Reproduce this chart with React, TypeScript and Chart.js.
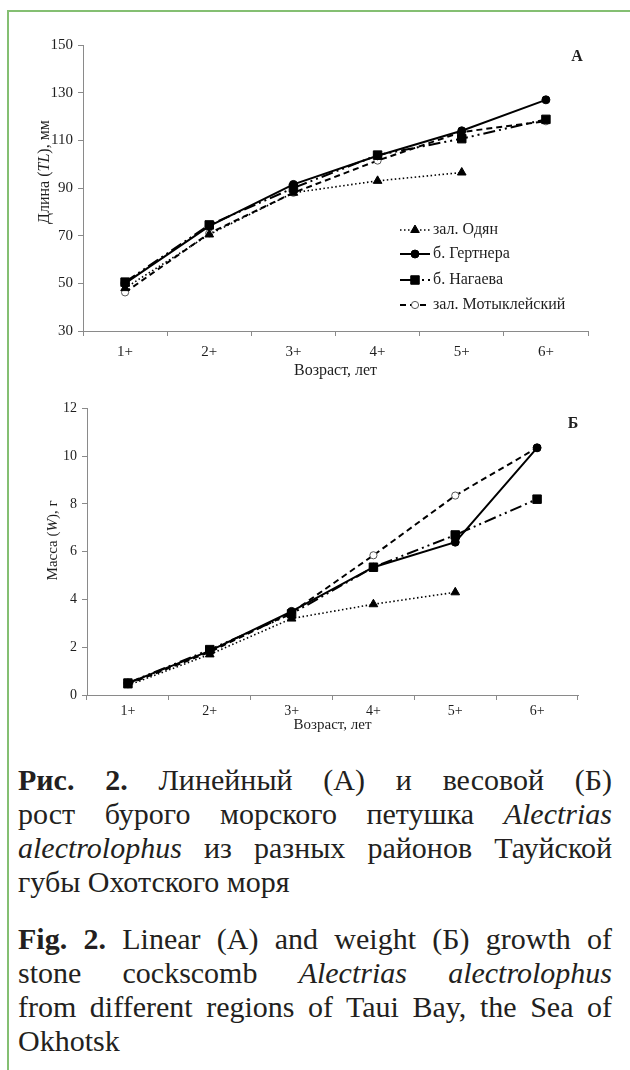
import React, { useEffect, useRef } from "react";
import { Chart, registerables } from "chart.js";

Chart.register(...registerables);

// ---------- data ----------
const ages = ["1+", "2+", "3+", "4+", "5+", "6+"];
const seriesNames = ["зал. Одян", "б. Гертнера", "б. Нагаева", "зал. Мотыклейский"];

// Panel A: length TL, mm
const odyanLen = [48, 70.5, 88, 93, 96.5, null];
const gertnerLen = [50, 74, 91.5, 103.5, 114, 127];
const nagaevLen = [50.5, 74.5, 90, 103.8, 110.7, 118.8];
const motykLen = [46.2, 71, 88, 101.5, 113.5, 118];

// Panel B: weight W, g
const odyanW = [0.4, 1.7, 3.2, 3.8, 4.3, null];
const gertnerW = [0.5, 1.85, 3.5, 5.35, 6.4, 10.35];
const nagaevW = [0.5, 1.9, 3.4, 5.35, 6.7, 8.2];
const motykW = [0.45, 1.8, 3.45, 5.85, 8.35, 10.35];

const lenTicks = { min: 30, max: 150, step: 20 };
const wTicks = { min: 0, max: 12, step: 2 };

const FONT = "'Liberation Serif', 'Times New Roman', serif";
const AXIS = "#8a8a8a";
const TXT = "#1e1e1e";

type Style = {
  dash: number[];
  width: number;
  point: string;
  radius: number;
  fill: string;
  stroke: string;
};

const styles: Style[] = [
  { dash: [1.5, 2.5], width: 1.6, point: "triangle", radius: 5, fill: "#000", stroke: "#000" },
  { dash: [], width: 2, point: "circle", radius: 4, fill: "#000", stroke: "#000" },
  { dash: [12, 4, 2, 4, 2, 4], width: 2, point: "rect", radius: 6, fill: "#000", stroke: "#000" },
  { dash: [6, 4], width: 2, point: "circle", radius: 3.6, fill: "#fff", stroke: "#555" },
];

function makeDatasets(arrs: (number | null)[][]) {
  return arrs.map((d, i) => {
    const s = styles[i];
    return {
      label: seriesNames[i],
      data: d,
      borderColor: "#000",
      borderWidth: s.width,
      borderDash: s.dash,
      pointStyle: s.point,
      pointRadius: s.radius,
      pointBackgroundColor: s.fill,
      pointBorderColor: s.stroke,
      pointBorderWidth: 1,
      fill: false,
      tension: 0,
    };
  });
}

function drawMarker(ctx: CanvasRenderingContext2D, s: Style, x: number, y: number) {
  ctx.save();
  ctx.setLineDash([]);
  ctx.fillStyle = s.fill;
  ctx.strokeStyle = s.stroke;
  ctx.lineWidth = 1;
  ctx.beginPath();
  const r = s.radius;
  if (s.point === "circle") {
    ctx.arc(x, y, r, 0, Math.PI * 2);
  } else if (s.point === "rect") {
    const h = r * Math.SQRT1_2;
    ctx.rect(x - h, y - h, 2 * h, 2 * h);
  } else if (s.point === "triangle") {
    const xo = (r * Math.sqrt(3)) / 2;
    ctx.moveTo(x, y - r);
    ctx.lineTo(x + xo, y + r / 2);
    ctx.lineTo(x - xo, y + r / 2);
    ctx.closePath();
  }
  ctx.fill();
  ctx.stroke();
  ctx.restore();
}

function drawRotated(ctx: CanvasRenderingContext2D, segs: { t: string; italic?: boolean }[], cx: number, cy: number, size: number) {
  ctx.save();
  ctx.translate(cx, cy);
  ctx.rotate(-Math.PI / 2);
  ctx.fillStyle = TXT;
  ctx.textBaseline = "middle";
  ctx.textAlign = "left";
  let total = 0;
  const widths = segs.map((s) => {
    ctx.font = `${s.italic ? "italic " : ""}${size}px ${FONT}`;
    const w = ctx.measureText(s.t).width;
    total += w;
    return w;
  });
  let x = -total / 2;
  segs.forEach((s, i) => {
    ctx.font = `${s.italic ? "italic " : ""}${size}px ${FONT}`;
    ctx.fillText(s.t, x, 0);
    x += widths[i];
  });
  ctx.restore();
}

type Cfg = {
  data: (number | null)[][];
  ticks: { min: number; max: number; step: number };
  width: number;
  height: number;
  padding: { left: number; top: number; right: number; bottom: number };
  yAxisWidth: number;
  tickSize: number;
  tickPad: number;
  titleSize: number;
  yTitle: { t: string; italic?: boolean }[];
  yTitleDx: number;
  yTitleDy: number;
  xTitleDy: number;
  panel: string;
  panelDx: number;
  panelDy: number;
  legend: boolean;
};

function PanelChart({ cfg }: { cfg: Cfg }) {
  const ref = useRef<HTMLCanvasElement | null>(null);
  useEffect(() => {
    if (!ref.current) return;
    const annot = {
      id: "annot",
      afterDraw(chart: any) {
        const ctx: CanvasRenderingContext2D = chart.ctx;
        const a = chart.chartArea;
        drawRotated(ctx, cfg.yTitle, a.left + cfg.yTitleDx, a.top + cfg.yTitleDy, cfg.titleSize);
        ctx.save();
        ctx.fillStyle = TXT;
        ctx.font = `${cfg.titleSize}px ${FONT}`;
        ctx.textAlign = "center";
        ctx.textBaseline = "middle";
        ctx.fillText("Возраст, лет", (a.left + a.right) / 2, a.bottom + cfg.xTitleDy);
        ctx.font = `bold 16px ${FONT}`;
        ctx.fillText(cfg.panel, a.right + cfg.panelDx, a.top + cfg.panelDy);
        ctx.restore();
        if (cfg.legend) {
          const x0 = a.right - 188;
          const rows = [a.top + 185, a.top + 209, a.top + 235, a.top + 260];
          chart.data.datasets.forEach((ds: any, i: number) => {
            const s = styles[i];
            const y = rows[i];
            ctx.save();
            ctx.strokeStyle = "#000";
            ctx.lineWidth = s.width;
            ctx.setLineDash(s.dash);
            ctx.beginPath();
            ctx.moveTo(x0, y);
            ctx.lineTo(x0 + 30, y);
            ctx.stroke();
            ctx.restore();
            drawMarker(ctx, s, x0 + 15, y);
            ctx.save();
            ctx.fillStyle = TXT;
            ctx.font = `16px ${FONT}`;
            ctx.textAlign = "left";
            ctx.textBaseline = "middle";
            ctx.fillText(ds.label, x0 + 33, y);
            ctx.restore();
          });
        }
      },
    };
    const chart = new Chart(ref.current, {
      type: "line",
      data: { labels: ages, datasets: makeDatasets(cfg.data) as any },
      options: {
        responsive: false,
        animation: false,
        layout: { padding: cfg.padding },
        plugins: { legend: { display: false }, tooltip: { enabled: false } },
        scales: {
          x: {
            type: "category",
            offset: true,
            grid: { offset: true, drawOnChartArea: false, drawTicks: true, tickLength: 5, color: AXIS },
            border: { color: AXIS, width: 1 },
            ticks: { font: { family: FONT, size: cfg.tickSize }, color: TXT, padding: cfg.tickPad, maxRotation: 0, autoSkip: false },
            afterFit: (s: any) => {
              s.height = 50;
            },
          },
          y: {
            min: cfg.ticks.min,
            max: cfg.ticks.max,
            ticks: { stepSize: cfg.ticks.step, font: { family: FONT, size: cfg.tickSize }, color: TXT, padding: 5 },
            grid: { drawOnChartArea: false, drawTicks: true, tickLength: 5, color: AXIS },
            border: { color: AXIS, width: 1 },
            afterFit: (s: any) => {
              s.width = cfg.yAxisWidth;
            },
          },
        },
      },
      plugins: [annot],
    });
    return () => chart.destroy();
  }, []);
  return <canvas ref={ref} width={cfg.width} height={cfg.height} style={{ display: "block" }} />;
}

const cfgA: Cfg = {
  data: [odyanLen, gertnerLen, nagaevLen, motykLen],
  ticks: lenTicks,
  width: 630,
  height: 395,
  padding: { left: 0, top: 45, right: 42, bottom: 14 },
  yAxisWidth: 83,
  tickSize: 15,
  tickPad: 7,
  titleSize: 16,
  yTitle: [{ t: "Длина (" }, { t: "TL", italic: true }, { t: "), мм" }],
  yTitleDx: -38,
  yTitleDy: 127,
  xTitleDy: 40,
  panel: "А",
  panelDx: -11,
  panelDy: 12,
  legend: true,
};

const cfgB: Cfg = {
  data: [odyanW, gertnerW, nagaevW, motykW],
  ticks: wTicks,
  width: 630,
  height: 360,
  padding: { left: 0, top: 13, right: 52, bottom: 10 },
  yAxisWidth: 87,
  tickSize: 14,
  tickPad: 3,
  titleSize: 15,
  yTitle: [{ t: "Масса (" }, { t: "W", italic: true }, { t: "), г" }],
  yTitleDx: -34,
  yTitleDy: 132,
  xTitleDy: 30,
  panel: "Б",
  panelDx: -5,
  panelDy: 15,
  legend: false,
};

const line: React.CSSProperties = { textAlign: "justify", textAlignLast: "justify" } as any;
const lastLine: React.CSSProperties = { textAlign: "left" };

export default function App() {
  return (
    <div
      style={{
        position: "absolute",
        left: 0,
        top: 0,
        width: 630,
        height: 1070,
        background: "#fff",
        overflow: "hidden",
      }}
    >
      <div
        style={{
          position: "absolute",
          left: 7,
          top: 10,
          width: 700,
          height: 1200,
          borderLeft: "2px solid #84bf72",
          borderTop: "2px solid #84bf72",
        }}
      />
      <div style={{ position: "absolute", left: 0, top: 0 }}>
        <PanelChart cfg={cfgA} />
      </div>
      <div style={{ position: "absolute", left: 0, top: 395 }}>
        <PanelChart cfg={cfgB} />
      </div>
      <div
        style={{
          position: "absolute",
          left: 18,
          top: 763,
          width: 594,
          fontFamily: FONT,
          fontSize: 30,
          lineHeight: "34px",
          color: "#231f20",
        }}
      >
        <div style={line}>
          <b>Рис. 2.</b> Линейный (А) и весовой (Б)
        </div>
        <div style={line}>
          рост бурого морского петушка <i>Alectrias</i>
        </div>
        <div style={line}>
          <i>alectrolophus</i> из разных районов Тауйской
        </div>
        <div style={lastLine}>губы Охотского моря</div>
        <div style={{ height: 23 }} />
        <div style={line}>
          <b>Fig. 2.</b> Linear (A) and weight (Б) growth of
        </div>
        <div style={line}>
          stone cockscomb <i>Alectrias alectrolophus</i>
        </div>
        <div style={line}>
          from different regions of Taui Bay, the Sea of
        </div>
        <div style={lastLine}>Okhotsk</div>
      </div>
    </div>
  );
}
